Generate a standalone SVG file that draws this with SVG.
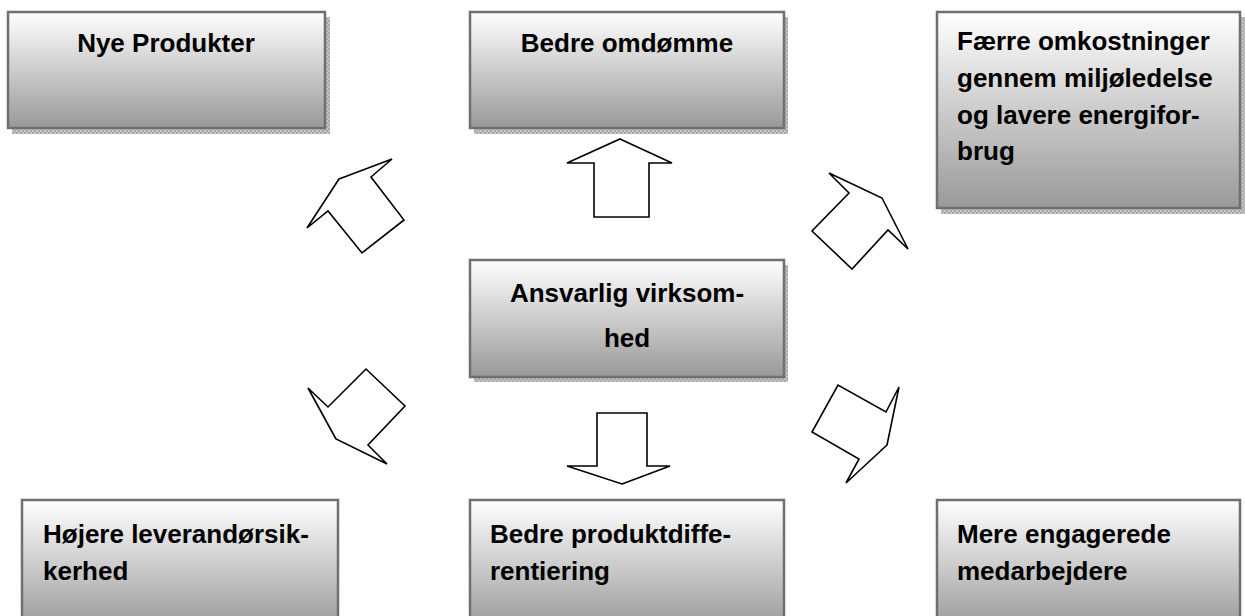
<svg xmlns="http://www.w3.org/2000/svg" width="1245" height="616" viewBox="0 0 1245 616">
<defs>
<linearGradient id="g" x1="0" y1="0" x2="0" y2="1">
<stop offset="0" stop-color="#ffffff"/>
<stop offset="1" stop-color="#999999"/>
</linearGradient>
<pattern id="sh" width="4" height="4" patternUnits="userSpaceOnUse">
<rect width="4" height="4" fill="#c4c4c4"/>
<rect width="2" height="2" fill="#a9a9a9"/>
<rect x="2" y="2" width="2" height="2" fill="#a9a9a9"/>
</pattern>
</defs>
<style>
.box{fill:url(#g);stroke:#6f6f6f;stroke-width:2.5}
.shadow{fill:url(#sh)}
.t{font-family:"Liberation Sans",Arial,sans-serif;font-weight:bold;font-size:26px;fill:#000}
.c{text-anchor:middle}
.arr{fill:#fff;stroke:#000;stroke-width:1.6;stroke-linejoin:miter}
</style>
<rect width="1245" height="616" fill="#fff"/>
<g id="node-nye-produkter">
<rect class="shadow" x="12" y="17" width="318" height="117"/>
<rect class="box" x="8" y="12" width="317" height="116"/>
<text class="t c" x="166" y="52">Nye Produkter</text>
</g>
<g id="node-bedre-omdomme">
<rect class="shadow" x="474" y="17" width="314" height="117"/>
<rect class="box" x="470" y="12" width="314" height="116"/>
<text class="t c" x="627" y="52">Bedre omdømme</text>
</g>
<g id="node-faerre-omkostninger">
<rect class="shadow" x="941" y="17" width="304" height="197"/>
<rect class="box" x="937" y="12" width="303" height="196"/>
<text class="t" x="957" y="50">Færre omkostninger</text>
<text class="t" x="957" y="87">gennem miljøledelse</text>
<text class="t" x="957" y="124">og lavere energifor-</text>
<text class="t" x="957" y="160">brug</text>
</g>
<g id="node-ansvarlig-virksomhed">
<rect class="shadow" x="474" y="265" width="314" height="117"/>
<rect class="box" x="470" y="260" width="314" height="117"/>
<text class="t c" x="627" y="302">Ansvarlig virksom-</text>
<text class="t c" x="627" y="347">hed</text>
</g>
<g id="node-hojere-leverandorsikkerhed">
<rect class="box" x="22" y="500" width="316" height="130"/>
<text class="t" x="43" y="543">Højere leverandørsik-</text>
<text class="t" x="43" y="580">kerhed</text>
</g>
<g id="node-bedre-produktdifferentiering">
<rect class="box" x="470" y="500" width="314" height="130"/>
<text class="t" x="490" y="543">Bedre produktdiffe-</text>
<text class="t" x="490" y="580">rentiering</text>
</g>
<g id="node-mere-engagerede-medarbejdere">
<rect class="box" x="937" y="500" width="303" height="130"/>
<text class="t" x="957" y="543">Mere engagerede</text>
<text class="t" x="957" y="580">medarbejdere</text>
</g>
<g id="connectors">
<polygon class="arr" points="620,139 672,163 649,163 649,217 594,217 594,163 567,163"/>
<polygon class="arr" points="622,484 670,466 647,466 647,413 597,413 597,466 567,466"/>
<polygon class="arr" points="339,179 392,159 371,177 404,220 362,253 328,211 307,228"/>
<polygon class="arr" points="882,198 908,249 888,230 852,269 812,231 849,193 829,173"/>
<polygon class="arr" points="336,439 308,388 328,407 366,369 405,406 368,445 387,464"/>
<polygon class="arr" points="887,445 846,483 859,459 812,432 838,385 886,412 899,387"/>
</g>
</svg>
